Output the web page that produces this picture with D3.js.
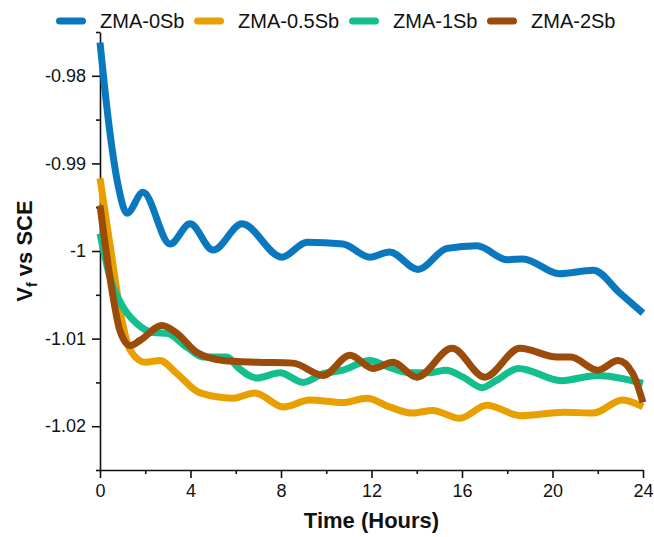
<!DOCTYPE html>
<html>
<head>
<meta charset="utf-8">
<script src="https://cdn.jsdelivr.net/npm/d3@7"></script>
<style>
  body { margin: 0; background: #fff; }
  text { font-family: Arial, "Liberation Sans", sans-serif; fill: #111; }
  .axis path, .axis line { stroke: #111; stroke-width: 1.6; }
  .axis text { font-size: 18px; font-family: Arial, "Liberation Sans", sans-serif; fill: #111; }
</style>
</head>
<body>
<div class="chart"></div>
<script>
var svgWidth = 654;
var svgHeight = 537;

var margin = { top: 32, right: 11, bottom: 67, left: 100 };
var width = svgWidth - margin.left - margin.right;
var height = svgHeight - margin.top - margin.bottom;

// series names + colours
var seriesNames = ["ZMA-0Sb", "ZMA-0.5Sb", "ZMA-1Sb", "ZMA-2Sb"];
var seriesColors = ["#0A78BE", "#E89F00", "#14BF8E", "#9B4B0A"];

// values (hours, V)
var t0Sb = [0, 0.4, 0.8, 1.19, 1.9, 3.1, 3.98, 5.0, 6.28, 8.04, 9.15, 10.74, 11.93, 12.8, 14.05, 15.34, 16.66, 18.0, 18.7, 20.3, 21.8, 22.98, 24];
var v0Sb = [-0.9762, -0.9857, -0.9925, -0.9957, -0.9933, -0.9992, -0.9969, -0.9999, -0.9969, -1.0007, -0.9990, -0.9992, -1.0007, -1.0001, -1.0021, -0.9997, -0.9994, -1.0010, -1.0009, -1.0026, -1.0022, -1.0048, -1.0071];

var t05Sb = [0, 0.45, 0.97, 1.33, 2.0, 2.65, 3.4, 4.42, 5.88, 6.85, 8.1, 9.28, 10.74, 11.8, 12.8, 13.8, 14.7, 15.9, 17.1, 18.6, 20.5, 21.8, 23.1, 24];
var v05Sb = [-0.9917, -0.9994, -1.0079, -1.0113, -1.0127, -1.0125, -1.0140, -1.0162, -1.0168, -1.0162, -1.0178, -1.0170, -1.0173, -1.0168, -1.0178, -1.0185, -1.0182, -1.0191, -1.0176, -1.0188, -1.0184, -1.0185, -1.0170, -1.0178];

var t1Sb = [0, 0.44, 1.02, 1.63, 2.34, 2.96, 3.85, 4.55, 5.61, 6.1, 6.94, 7.96, 8.97, 9.86, 10.74, 11.93, 12.8, 13.7, 14.6, 15.3, 16.05, 16.9, 17.5, 18.5, 20.4, 21.97, 24];
var v1Sb = [-0.9980, -1.0030, -1.0064, -1.0083, -1.0093, -1.0094, -1.0110, -1.0121, -1.0121, -1.0133, -1.0145, -1.0139, -1.0150, -1.0140, -1.0136, -1.0125, -1.0133, -1.0139, -1.0139, -1.0136, -1.0144, -1.0156, -1.0148, -1.0134, -1.0148, -1.0142, -1.0151];

var t2Sb = [0, 0.53, 0.88, 1.33, 1.77, 2.74, 3.4, 4.29, 5.44, 6.94, 8.53, 9.86, 11.05, 12.07, 12.95, 14.0, 15.56, 17.0, 18.56, 20.2, 20.8, 22.0, 22.9, 23.55, 24];
var v2Sb = [-0.9948, -1.0045, -1.0091, -1.0108, -1.0102, -1.0085, -1.0094, -1.0116, -1.0125, -1.0127, -1.0128, -1.0142, -1.0119, -1.0134, -1.0127, -1.0144, -1.0111, -1.0144, -1.0111, -1.0121, -1.0121, -1.0136, -1.0125, -1.0140, -1.0173];

var xTicks = [0, 4, 8, 12, 16, 20, 24];
var xMinor = [2, 6, 10, 14, 18, 22];
var yTicks = [-0.98, -0.99, -1, -1.01, -1.02];
var yTickLabels = ["-0.98", "-0.99", "-1", "-1.01", "-1.02"];
var yMinor = [-0.975, -0.985, -0.995, -1.005, -1.015, -1.025];

var seriesT = [t0Sb, t05Sb, t1Sb, t2Sb];
var seriesV = [v0Sb, v05Sb, v1Sb, v2Sb];

var svg = d3.select(".chart")
  .append("svg")
  .attr("width", svgWidth)
  .attr("height", svgHeight);

var chartGroup = svg.append("g")
  .attr("transform", `translate(${margin.left}, ${margin.top})`);

var xScale = d3.scaleLinear().domain([0, 24]).range([0, width]);
var yScale = d3.scaleLinear().domain([-1.025, -0.975]).range([height, 0]);

// minor ticks first (no labels)
chartGroup.append("g")
  .attr("class", "axis")
  .attr("transform", `translate(0, ${height})`)
  .call(d3.axisBottom(xScale).tickValues(xMinor).tickSize(4).tickFormat(""))
  .select(".domain").remove();

chartGroup.append("g")
  .attr("class", "axis")
  .call(d3.axisLeft(yScale).tickValues(yMinor).tickSize(4).tickFormat(""))
  .select(".domain").remove();

// main axes
chartGroup.append("g")
  .attr("class", "axis")
  .attr("transform", `translate(0, ${height})`)
  .call(d3.axisBottom(xScale).tickValues(xTicks).tickSize(8).tickSizeOuter(0).tickPadding(6));

chartGroup.append("g")
  .attr("class", "axis")
  .call(d3.axisLeft(yScale).tickValues(yTicks).tickSize(8).tickSizeOuter(0).tickPadding(6)
    .tickFormat((d, i) => yTickLabels[i]));

// lines
var line = d3.line()
  .x(d => xScale(d[0]))
  .y(d => yScale(d[1]))
  .curve(d3.curveMonotoneX);

seriesNames.forEach(function (name, i) {
  var pts = seriesT[i].map((t, j) => [t, seriesV[i][j]]);
  chartGroup.append("path")
    .datum(pts)
    .attr("d", line)
    .attr("fill", "none")
    .attr("stroke", seriesColors[i])
    .attr("stroke-width", 7)
    .attr("stroke-linejoin", "round");
});

// legend
var legendX = [56, 194, 349, 487];
var legend = svg.append("g");
seriesNames.forEach(function (name, i) {
  legend.append("line")
    .attr("x1", legendX[i] + 3.5)
    .attr("x2", legendX[i] + 26.5)
    .attr("y1", 21)
    .attr("y2", 21)
    .attr("stroke", seriesColors[i])
    .attr("stroke-width", 7)
    .attr("stroke-linecap", "round");
  legend.append("text")
    .attr("x", legendX[i] + 44)
    .attr("y", 28)
    .style("font-size", "20px")
    .text(name);
});

// axis titles
svg.append("text")
  .attr("x", margin.left + width / 2)
  .attr("y", 528)
  .attr("text-anchor", "middle")
  .style("font-size", "22px")
  .style("font-weight", "bold")
  .text("Time (Hours)");

var yTitle = svg.append("text")
  .attr("transform", `translate(32, ${margin.top + height / 2}) rotate(-90)`)
  .attr("text-anchor", "middle")
  .style("font-size", "22px")
  .style("font-weight", "bold");
yTitle.append("tspan").text("V");
yTitle.append("tspan").attr("dy", 5).style("font-size", "14px").text("f");
yTitle.append("tspan").attr("dy", -5).text(" vs SCE");
</script>
</body>
</html>
